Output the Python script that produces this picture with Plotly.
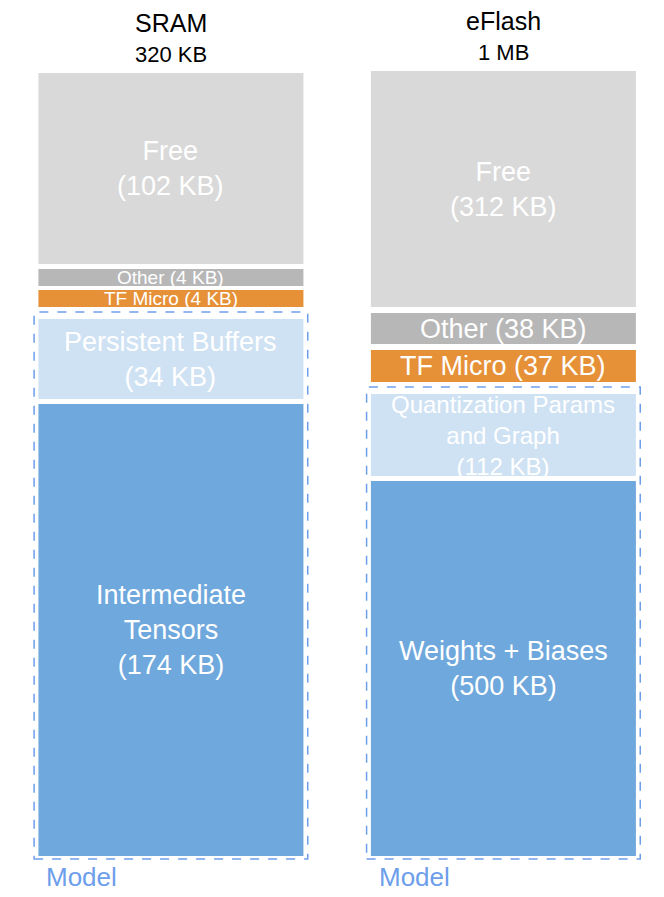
import plotly.graph_objects as go

# two memories, segments listed bottom -> top
memories = ['SRAM', 'eFlash']
capacity = ['320 KB', '1 MB']

sram_names = ['Intermediate<br>Tensors', 'Persistent Buffers', 'TF Micro', 'Other', 'Free']
sram_kb = [174, 34, 4, 4, 102]
sram_drawn = [452, 80, 17, 17, 191]  # drawn block heights (the figure isn't to scale)
sram_gaps = [5, 12, 4, 5]

flash_names = ['Weights + Biases', 'Quantization Params<br>and Graph', 'TF Micro', 'Other', 'Free']
flash_kb = [500, 112, 37, 38, 312]
flash_drawn = [375, 82, 32, 31, 236]
flash_gaps = [5, 12, 6, 6]

# first two segments of each bar belong to the model
model_segments = 2

# styling
seg_colors = ['#6fa8dc', '#cfe2f3', '#e69138', '#b7b7b7', '#d9d9d9']
sram_font = [27, 27, 19, 19, 27]
flash_font = [27, 24, 27, 27, 27]
model_color = '#6d9eeb'
font_family = 'Liberation Sans, Arial, sans-serif'

bar_width = 0.797

fig = go.Figure()
annotations = []
shapes = []

stacks = [
    (sram_names, sram_kb, sram_drawn, sram_gaps, sram_font),
    (flash_names, flash_kb, flash_drawn, flash_gaps, flash_font),
]

for i, (names, kbs, drawn, gaps, fsizes) in enumerate(stacks):
    mem = memories[i]
    base = 0
    bases = []
    for j, h in enumerate(drawn):
        bases.append(base)
        base += h
        if j < len(gaps):
            base += gaps[j]
    top = base

    for j, h in enumerate(drawn):
        fig.add_trace(go.Bar(
            x=[mem], y=[h], base=[bases[j]], width=bar_width,
            marker=dict(color=seg_colors[j], line=dict(width=0)),
            hoverinfo='skip', showlegend=False,
        ))
        sep = '<br>' if h > 40 else ' '
        annotations.append(dict(
            x=mem, y=bases[j] + h / 2, xref='x', yref='y',
            text=f'{names[j]}{sep}({kbs[j]} KB)', showarrow=False,
            font=dict(color='white', size=fsizes[j], family=font_family),
            xanchor='center', yanchor='middle',
        ))

    # title above the bar: name and capacity
    annotations.append(dict(
        x=mem, y=top + 50, xref='x', yref='y', showarrow=False, text=mem,
        font=dict(color='black', size=25, family=font_family),
        xanchor='center', yanchor='middle',
    ))
    annotations.append(dict(
        x=mem, y=top + 19, xref='x', yref='y', showarrow=False, text=capacity[i],
        font=dict(color='black', size=22, family=font_family),
        xanchor='center', yanchor='middle',
    ))

    # dashed box round the model part
    model_top = bases[model_segments - 1] + drawn[model_segments - 1]
    x0 = i - bar_width / 2 - 0.013
    x1 = i + bar_width / 2 + 0.013
    shapes.append(dict(
        type='rect', xref='x', yref='y', x0=x0, x1=x1, y0=-3, y1=model_top + 7,
        line=dict(color=model_color, width=1.5, dash='dash'), fillcolor='rgba(0,0,0,0)',
    ))
    annotations.append(dict(
        x=x0 + 0.03, y=-4, xref='x', yref='y', text='Model', showarrow=False,
        font=dict(color=model_color, size=26, family=font_family),
        xanchor='left', yanchor='top',
    ))

# page body adds an 8px margin, so the figure is 8px smaller than the window
fig.update_layout(
    width=656, height=889,
    margin=dict(l=0, r=0, t=0, b=0),
    barmode='overlay',
    plot_bgcolor='white', paper_bgcolor='white',
    xaxis=dict(range=[-0.490, 1.483], visible=False, type='category'),
    yaxis=dict(range=[-41, 848], visible=False),
    annotations=annotations,
    shapes=shapes,
)

fig.write_html('out.html')
